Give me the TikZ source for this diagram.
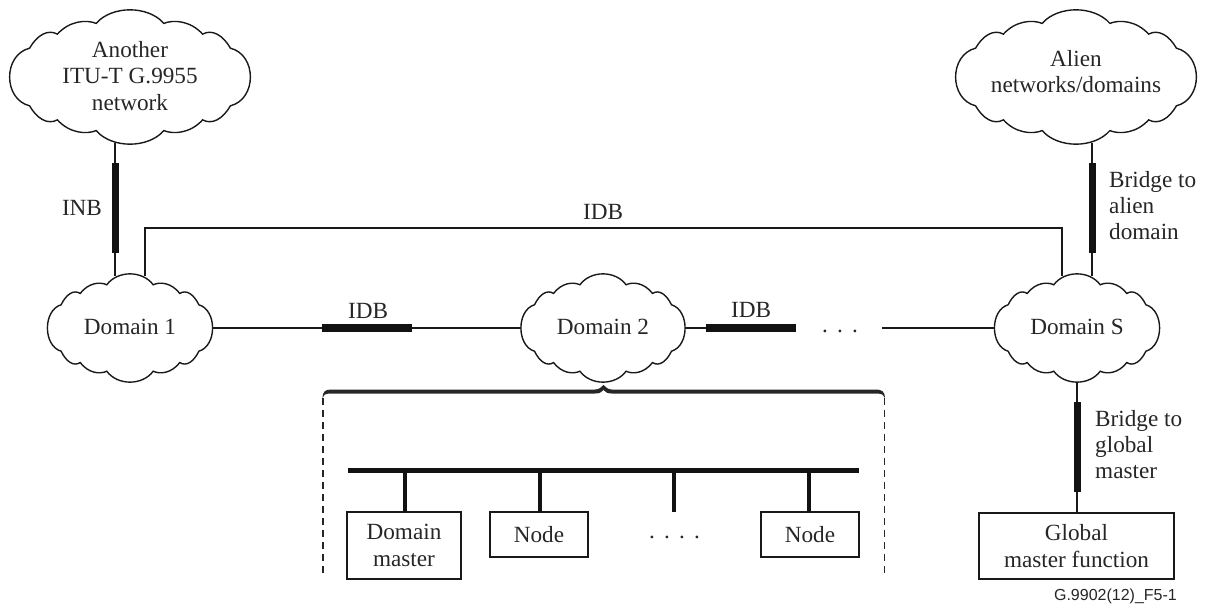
\documentclass[tikz,border=0pt]{standalone}
\usepackage{fontspec}
\setmainfont{Liberation Serif}
\newfontfamily\arialfont{Liberation Sans}
\usetikzlibrary{shapes.geometric,calc}
\newcommand{\cloudoutline}[5]{%
  \begin{scope}[shift={(#1,#2)},x=#3pt,y=-#4pt,cloudline]
  \draw (-.28,.80) .. controls (-.15,1.07) and (.15,1.07) .. (.28,.80)
    .. controls (.36,.86) and (.50,.84) .. (.60,.64)
    .. controls (.68,.72) and (.77,.62) .. (.83,.43)
    .. controls (1.05,.33) and (1.05,-.33) .. (.83,-.43)
    .. controls (.77,-.62) and (.68,-.72) .. (.60,-.64)
    .. controls (.50,-.84) and (.36,-.86) .. (.28,-.80)
    .. controls (.15,-1.07) and (-.15,-1.07) .. (-.28,-.80)
    .. controls (-.36,-.86) and (-.50,-.84) .. (-.60,-.64)
    .. controls (-.68,-.72) and (-.77,-.62) .. (-.83,-.43)
    .. controls (-1.05,-.33) and (-1.05,.33) .. (-.83,.43)
    .. controls (-.77,.62) and (-.68,.72) .. (-.60,.64)
    .. controls (-.50,.84) and (-.36,.86) .. (-.28,.80) -- cycle;
  \end{scope}}
\tikzset{
  x=1pt,y=-1pt,
  cloudline/.style={line width=1.4pt,color=black!90},
  wire/.style={line width=1.5pt,color=black!90},
  txt/.style={font=\fontsize{23.2}{26.2}\selectfont,align=center,inner sep=0pt,text=black!85},
  ltxt/.style={txt,align=left,anchor=north west},
  cloudshape/.style={ellipse,inner sep=0pt,outer sep=0pt,minimum width=#1},
  vbridge/.style={fill=black!93,draw=none,inner sep=0pt,outer sep=0pt,minimum width=7pt,minimum height=90pt},
  hbridge/.style={fill=black!93,draw=none,inner sep=0pt,outer sep=0pt,minimum width=90pt,minimum height=7.5pt},
  unitbox/.style={draw=black!90,line width=1.4pt,inner sep=0pt,outer sep=0pt,txt},
  stem/.style={line width=4.5pt,color=black!93},
  bus/.style={fill=black!93,inner sep=0pt,outer sep=0pt,minimum width=511pt,minimum height=5pt},
  dash line/.style={line width=1.2pt,color=black!85,dash pattern=on 7pt off 5pt},
}
\begin{document}
\begin{tikzpicture}
\useasboundingbox (0,0) rectangle (1205,604);
% clouds
\cloudoutline{130}{77}{121}{67}{}
\node[cloudshape=242pt,minimum height=134pt] (another) at (130,77) {};
\node[txt] (anothert) at (130,76) {Another\\ITU-T G.9955\\network};
\cloudoutline{1076}{77}{121}{67}{}
\node[cloudshape=242pt,minimum height=134pt] (alien) at (1076,77) {};
\node[txt] (alient) at (1076,71.5) {Alien\\networks/domains};
\cloudoutline{130}{328}{83}{54}{}
\node[cloudshape=166pt,minimum height=108pt] (d1) at (130,328) {};
\node[txt] (d1t) at (130,327) {Domain 1};
\cloudoutline{603}{328}{82.5}{54}{}
\node[cloudshape=165pt,minimum height=108pt] (d2) at (603,328) {};
\node[txt] (d2t) at (603,327) {Domain 2};
\cloudoutline{1077}{328}{83}{54}{}
\node[cloudshape=166pt,minimum height=108pt] (ds) at (1077,328) {};
\node[txt] (dst) at (1077,327) {Domain S};
% bridges
\node[vbridge] (inb) at (115,208) {};
\node[vbridge] (balien) at (1092,208) {};
\node[vbridge] (bglobal) at (1077,447) {};
\node[hbridge] (idba) at (367,328) {};
\node[hbridge] (idbb) at (751,328) {};
% connector points
\coordinate (d1a) at ($(d1.north)+(-15,1.5)$);
\coordinate (d1b) at ($(d1.north)+(15,1.5)$);
\coordinate (dsa) at ($(ds.north)+(-15,1.5)$);
\coordinate (dsb) at ($(ds.north)+(15,1.5)$);
\coordinate (anb) at ($(another.south)+(-15,-0.8)$);
\coordinate (alb) at ($(alien.south)+(16,-0.8)$);
\coordinate (topa) at (145,228);
\coordinate (topb) at (1062,228);
\coordinate (dotsend) at (882,328);
% connectors
\draw[wire] (anb) -- (inb.north);
\draw[wire] (inb.south) -- (d1a);
\draw[wire] (alb) -- (balien.north);
\draw[wire] (balien.south) -- (dsb);
\draw[wire] (d1b) -- (d1b |- topa) -- (dsa |- topb) -- (dsa);
\draw[wire] (d1.east) -- (idba.west);
\draw[wire] (idba.east) -- (d2.west);
\draw[wire] (d2.east) -- (idbb.west);
\draw[wire] (dotsend) -- (ds.west);
\node[txt] (lblinb) at (82,208) {INB};
\node[txt] (lblidbtop) at (603,212) {IDB};
\node[txt] (lblidba) at (368,311) {IDB};
\node[txt] (lblidbb) at (751,310) {IDB};
\node[txt,anchor=base] (dotsa) at (840,332) {.\hspace{9.2pt}.\hspace{9.2pt}.};
\node[ltxt] (lblalien) at (1109,171) {Bridge to\\alien\\domain};
\node[ltxt] (lblglobal) at (1095,410) {Bridge to\\global\\master};
% global master
\node[unitbox,minimum width=195pt,minimum height=66pt] (gm) at (1076.5,546) {Global\\master function};
\draw[wire] (ds.south) -- (bglobal.north);
\draw[wire] (bglobal.south) -- (bglobal.south |- gm.north);
% brace
\fill[black!85] (322.5,398) .. controls (322.5,392) and (325,389.5) .. (331,389.5) -- (595,389.5)
  .. controls (599,389.5) and (601,387.5) .. (603.5,385) .. controls (606,387.5) and (608,389.5) .. (612,389.5)
  -- (876,389.5) .. controls (882,389.5) and (885,392) .. (885,398)
  .. controls (884.5,395) and (882,393.5) .. (876,393.5) -- (612,393.5)
  .. controls (608,393.5) and (605,392.5) .. (603.5,390) .. controls (602,392.5) and (599,393.5) .. (595,393.5)
  -- (331,393.5) .. controls (325,393.5) and (323,395) .. (322.5,398) -- cycle;
\coordinate (dashla) at (323,398);
\coordinate (dashlb) at (323,576);
\coordinate (dashra) at (884.5,398);
\coordinate (dashrb) at (884.5,576);
\draw[dash line] (dashla) -- (dashlb);
\draw[dash line] (dashra) -- (dashrb);
% inside domain
\node[bus] (busbar) at (603.5,470) {};
\node[unitbox,minimum width=114pt,minimum height=67pt] (dm) at (404,545.5) {Domain\\master};
\node[unitbox,minimum width=98pt,minimum height=45pt] (na) at (539,534.5) {Node};
\node[unitbox,minimum width=98pt,minimum height=45pt] (nb) at (810,534.5) {Node};
\coordinate (stemend) at (674,512);
\draw[stem] (dm.north -| 405,0) -- (busbar.south -| 405,0);
\draw[stem] (540,512) -- (busbar.south -| 540,0);
\draw[stem] (stemend) -- (busbar.south -| stemend);
\draw[stem] (809,512) -- (busbar.south -| 809,0);
\node[txt,anchor=base] (dotsb) at (674.5,538.5) {.\hspace{9.2pt}.\hspace{9.2pt}.\hspace{9.2pt}.};
% reference label
\node[anchor=base east,inner sep=0pt,font=\arialfont\fontsize{16}{18}\selectfont,text=black!85] (ref) at (1177,600.5) {G.9902(12)\_F5-1};
\end{tikzpicture}
\end{document}
